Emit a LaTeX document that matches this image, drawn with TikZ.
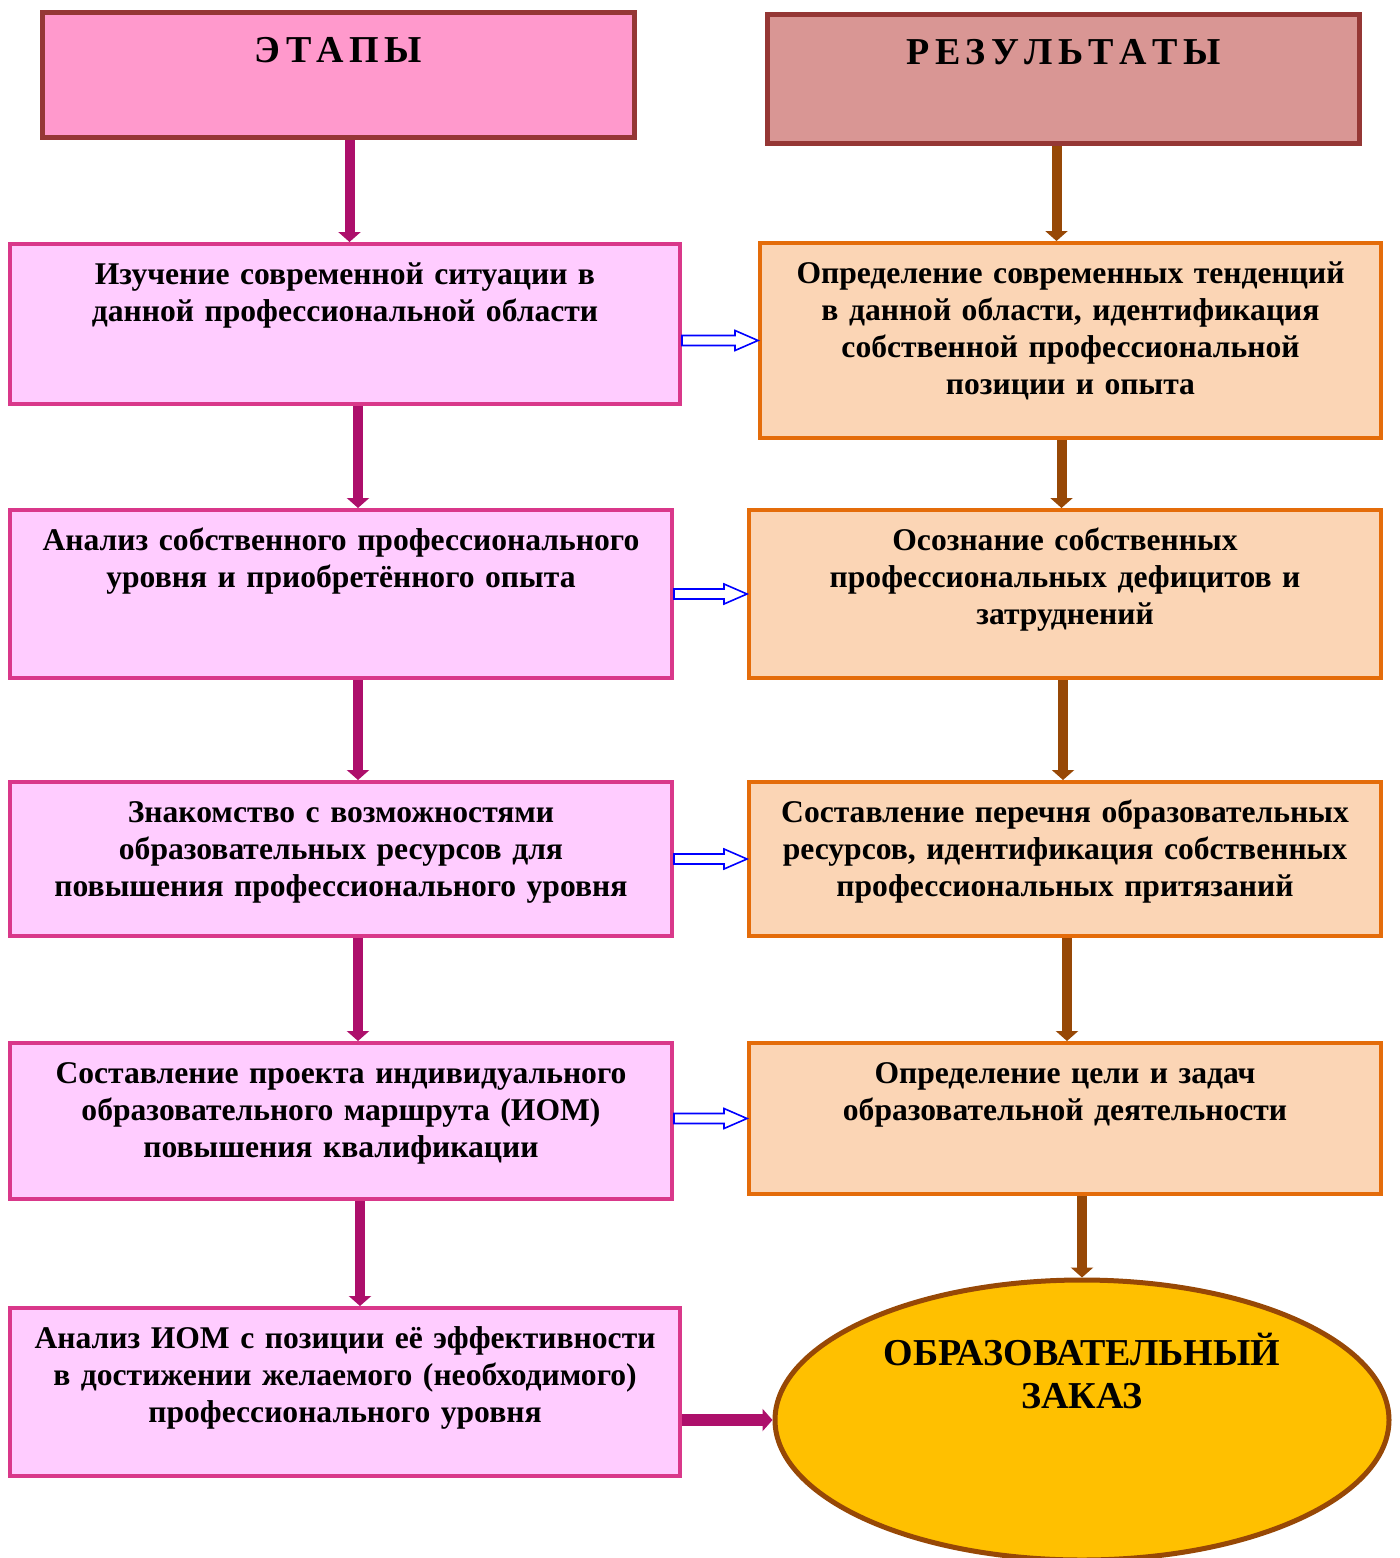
\documentclass[tikz,border=0pt]{standalone}
\usepackage{fontspec}
\setmainfont{Liberation Serif}
\usetikzlibrary{arrows.meta,calc,shapes}

\definecolor{headborder}{HTML}{953735}
\definecolor{stagehead}{HTML}{FF99CC}
\definecolor{resulthead}{HTML}{D99694}
\definecolor{stageborder}{HTML}{D9388A}
\definecolor{stagefill}{HTML}{FFCCFF}
\definecolor{resultborder}{HTML}{E46C0A}
\definecolor{resultfill}{HTML}{FBD5B5}
\definecolor{stagelink}{HTML}{AD0F6B}
\definecolor{resultlink}{HTML}{974806}
\definecolor{orderfill}{HTML}{FFC000}

\newcommand{\gap}{\hspace{2.7pt}}
% hollow blue arrow from a stage box to its result box
\newcommand{\hollowarrow}[2]{%
  \draw[hollow] let \p1=(#1.east), \p2=(#2.west) in
    (\x1,\y2+2.5pt) -- (\x2-11.5pt,\y2+2.5pt) -- (\x2-11.5pt,\y2+5pt) -- (\x2,\y2)
    -- (\x2-11.5pt,\y2-5pt) -- (\x2-11.5pt,\y2-2.5pt) -- (\x1,\y2-2.5pt) -- cycle;}

\begin{document}
\begin{tikzpicture}[x=0.5pt,y=-0.5pt,
    every node/.style={font=\bfseries\fontsize{15.8}{18.5}\selectfont,align=center,
      inner xsep=4pt,inner ysep=0pt,anchor=north west,text height=20pt},
    head/.style={draw=headborder,line width=2.5pt,font=\bfseries\fontsize{19}{22}\selectfont,
      text width=288pt,text height=25pt},
    stage/.style={draw=stageborder,fill=stagefill,line width=2pt},
    result/.style={draw=resultborder,fill=resultfill,line width=2pt},
    stagearrow/.style={stagelink,line width=5pt,-{Triangle[length=5pt,width=11pt]}},
    resultarrow/.style={resultlink,line width=5pt,-{Triangle[length=5pt,width=11pt]}},
    hollow/.style={draw=blue,fill=white,line width=0.8pt}]
  \useasboundingbox (0,0) rectangle (1400,1558);

  \node[head,fill=stagehead,text depth=37.5pt] (STAGES) at (40,10) {Э\gap Т\gap А\gap П\gap Ы};
  \node[head,fill=resulthead,text depth=39.5pt] (RESULTS) at (765,12) {Р\gap Е\gap З\gap У\gap Л\gap Ь\gap Т\gap А\gap Т\gap Ы};

  \node[stage,text width=327pt,text depth=60pt] (S1) at (8,242) {Изучение современной ситуации в\\ данной профессиональной области};
  \node[stage,text width=323pt,text depth=64pt] (S2) at (8,508) {Анализ собственного профессионального\\ уровня и приобретённого опыта};
  \node[stage,text width=323pt,text depth=57pt] (S3) at (8,780) {Знакомство с возможностями\\ образовательных ресурсов для\\ повышения профессионального уровня};
  \node[stage,text width=323pt,text depth=58pt] (S4) at (8,1041) {Составление проекта индивидуального\\ образовательного маршрута (ИОМ)\\ повышения квалификации};
  \node[stage,text width=327pt,text depth=64pt] (S5) at (8,1306) {Анализ ИОМ с позиции её эффективности\\ в достижении желаемого (необходимого)\\ профессионального уровня};

  \node[result,text width=302.5pt,text depth=77.5pt] (R1) at (758,241) {Определение современных тенденций\\ в данной области, идентификация\\ собственной профессиональной\\ позиции и опыта};
  \node[result,text width=308pt,text depth=64pt] (R2) at (747,508) {Осознание собственных\\ профессиональных дефицитов и\\ затруднений};
  \node[result,text width=308pt,text depth=57pt] (R3) at (747,780) {Составление перечня образовательных\\ ресурсов, идентификация собственных\\ профессиональных притязаний};
  \node[result,text width=308pt,text depth=55.5pt] (R4) at (747,1041) {Определение цели и задач\\ образовательной деятельности};

  \node[ellipse,draw=resultlink,fill=orderfill,line width=2.5pt,anchor=center,inner sep=0pt,
    minimum width=307pt,minimum height=140pt,text width=210pt,text depth=75pt,
    font=\bfseries\fontsize{19}{21.5}\selectfont] (ORDER) at (1082,1420) {ОБРАЗОВАТЕЛЬНЫЙ\\ ЗАКАЗ};

  % stages
  \draw[stagearrow] ([xshift=5.5pt]STAGES.south) -- ([xshift=5.5pt]STAGES.south |- S1.north);
  \draw[stagearrow] ([xshift=6.5pt]S1.south) -- ([xshift=6.5pt]S1.south |- S2.north);
  \draw[stagearrow] ([xshift=8.5pt]S2.south) -- ([xshift=8.5pt]S2.south |- S3.north);
  \draw[stagearrow] ([xshift=8.5pt]S3.south) -- ([xshift=8.5pt]S3.south |- S4.north);
  \draw[stagearrow] ([xshift=9.5pt]S4.south) -- ([xshift=9.5pt]S4.south |- S5.north);
  \draw[stagelink,line width=6pt,-{Triangle[length=5pt,width=11pt]}] (S5.east |- ORDER.west) -- (ORDER.west);

  % results
  \draw[resultarrow] ([xshift=-3.5pt]RESULTS.south) -- ([xshift=-3.5pt]RESULTS.south |- R1.north);
  \draw[resultarrow] ([xshift=-4.5pt]R1.south) -- ([xshift=-4.5pt]R1.south |- R2.north);
  \draw[resultarrow] ([xshift=-1pt]R2.south) -- ([xshift=-1pt]R2.south |- R3.north);
  \draw[resultarrow] ([xshift=1pt]R3.south) -- ([xshift=1pt]R3.south |- R4.north);
  \draw[resultarrow] (R4.south -| ORDER.north) -- (ORDER.north);

  % stage -> result
  \hollowarrow{S1}{R1}
  \hollowarrow{S2}{R2}
  \hollowarrow{S3}{R3}
  \hollowarrow{S4}{R4}
\end{tikzpicture}
\end{document}
